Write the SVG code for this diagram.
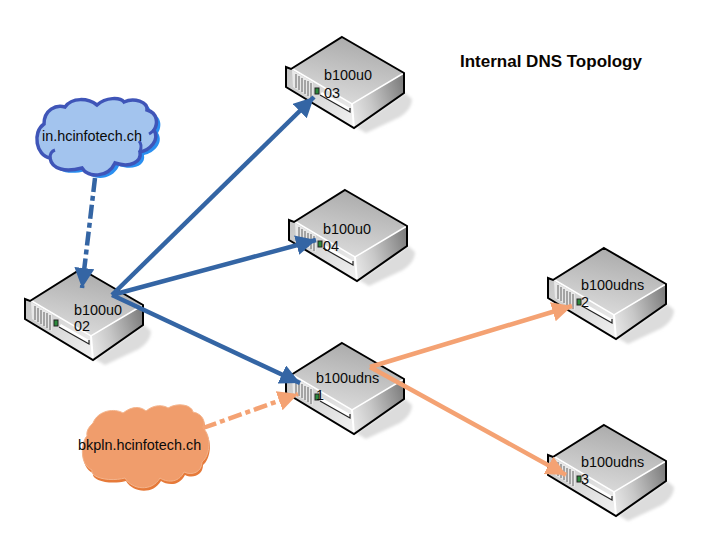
<svg xmlns="http://www.w3.org/2000/svg" width="716" height="549" viewBox="0 0 716 549">
<style>
.lbl{font-family:"Liberation Sans",Arial,sans-serif;font-size:14.4px;fill:#0a0a0a}
.title{font-family:"Liberation Sans",Arial,sans-serif;font-size:17px;font-weight:bold;fill:#0a0500}
.edge{fill:none;stroke-width:4.5}
.blue{stroke:#3465a4}
.orange{stroke:#f4a273}
.dashdot{stroke-dasharray:14 4 5 4}
.sl{fill:none;stroke:#000;stroke-width:2;stroke-linejoin:miter}
</style>
<defs>
<linearGradient id="top" x1="0.7" y1="0" x2="0.35" y2="1"><stop offset="0" stop-color="#a8a8a8"/><stop offset="1" stop-color="#dcdcdc"/></linearGradient>
<linearGradient id="side" x1="0" y1="0.6" x2="1" y2="0.3"><stop offset="0" stop-color="#e4e4e4"/><stop offset="0.35" stop-color="#c8c8c8"/><stop offset="1" stop-color="#808080"/></linearGradient>
<linearGradient id="front" x1="0" y1="0" x2="1" y2="1"><stop offset="0" stop-color="#c4c4c4"/><stop offset="1" stop-color="#f2f2f2"/></linearGradient>
<filter id="blur" x="-30%" y="-30%" width="160%" height="160%"><feGaussianBlur stdDeviation="1.5"/></filter>
<marker id="ab" markerUnits="userSpaceOnUse" markerWidth="22" markerHeight="22" refX="20" refY="10" orient="auto"><path d="M0 0L20 10L0 20Z" fill="#3465a4"/></marker>
<marker id="ao" markerUnits="userSpaceOnUse" markerWidth="22" markerHeight="22" refX="20" refY="10" orient="auto"><path d="M0 0L20 10L0 20Z" fill="#f4a273"/></marker>
<g id="srv">
<path d="M14 90L63 56L70 62Q70 72 58 80L24 96Z" fill="#dcdcdc" filter="url(#blur)"/>
<path d="M0 0L62 36L10 67L-51 31Z" fill="url(#top)"/>
<path d="M10 67L62 36V56L12 91Z" fill="url(#side)"/>
<path d="M-56 30L-51 31L10 67L12 91L-56 50Z" fill="url(#front)"/>
<path d="M-51 31L10 67L62 36" fill="none" stroke="#fff" stroke-width="1.5"/>
<path d="M10 67L12 91" stroke="#fff" stroke-width="2" fill="none"/>
<path d="M-50 33L-49 50L-29 62V45Z" fill="#e8e8e8"/>
<g stroke="#777" stroke-width="1.2"><path d="M-46 37V51M-43 39V53M-40 41V55M-37 43V57M-34 44V59M-31 46V61"/></g>
<rect x="-27" y="51" width="4" height="6" fill="#2c8a3c" stroke="#222" stroke-width="1"/>
<path d="M-20 55L8 71V75L-22 58Z" fill="#fff"/>
<path d="M-22 58L8 75V71" fill="none" stroke="#222" stroke-width="1.2"/>
<path class="sl" d="M0 0L62 36V56L12 91L-56 50V30L-51 32Z"/>
</g>
</defs>

<g id="n03"><use href="#srv" x="342" y="37"/><text class="lbl" x="324" y="80">b100u0</text><text class="lbl" x="324" y="98">03</text></g>
<g id="n04"><use href="#srv" x="345" y="190"/><text class="lbl" x="323" y="234">b100u0</text><text class="lbl" x="323" y="251">04</text></g>
<g id="n02"><use href="#srv" x="81" y="269"/><text class="lbl" x="74" y="315">b100u0</text><text class="lbl" x="74" y="331">02</text></g>
<g id="n1"><use href="#srv" x="342" y="343"/><text class="lbl" x="316" y="383">b100udns</text><text class="lbl" x="316" y="400">1</text></g>
<g id="n2"><use href="#srv" x="604" y="248"/><text class="lbl" x="581" y="290">b100udns</text><text class="lbl" x="581" y="307">2</text></g>
<g id="n3"><use href="#srv" x="604" y="425"/><text class="lbl" x="581" y="467">b100udns</text><text class="lbl" x="581" y="484">3</text></g>

<g id="cloud1">
<path transform="translate(4,3)" d="M44 124C44 110 56 104 65 107C72 97 88 98 97 105C106 97 120 97 124 102C134 97 148 102 147 110C158 113 158 124 154 130C160 140 150 150 140 152C142 162 130 168 115 163C108 178 88 178 82 168C66 172 52 170 50 158C36 156 32 132 44 124Z" fill="#2a8ff0"/>
<path d="M44 124C44 110 56 104 65 107C72 97 88 98 97 105C106 97 120 97 124 102C134 97 148 102 147 110C158 113 158 124 154 130C160 140 150 150 140 152C142 162 130 168 115 163C108 178 88 178 82 168C66 172 52 170 50 158C36 156 32 132 44 124Z" fill="#a3c4ee" stroke="#3f55b8" stroke-width="3.5"/>
<path d="M140 152C142 146 141 143 139 141M154 130C152 132 151 133 149 134M50 158C50 154 52 151 55 150" fill="none" stroke="#3f55b8" stroke-width="3"/>
<text class="lbl" x="42" y="141">in.hcinfotech.ch</text>
</g>
<g id="cloud2">
<path transform="translate(1,3)" d="M93 423C98 410 115 408 123 413C132 406 140 406 146 411C154 404 164 405 168 408C178 402 192 405 193 412C204 414 206 424 203 428C212 436 210 456 202 462C202 472 192 476 184 472C178 484 166 482 160 478C152 492 132 490 125 478C110 482 90 478 92 470C78 464 82 440 87 436C86 430 90 426 93 423Z" fill="#e67a3a"/>
<path d="M93 423C98 410 115 408 123 413C132 406 140 406 146 411C154 404 164 405 168 408C178 402 192 405 193 412C204 414 206 424 203 428C212 436 210 456 202 462C202 472 192 476 184 472C178 484 166 482 160 478C152 492 132 490 125 478C110 482 90 478 92 470C78 464 82 440 87 436C86 430 90 426 93 423Z" fill="#f09d6c" stroke="#f4b48c" stroke-width="1"/>
<text class="lbl" x="78" y="450">bkpln.hcinfotech.ch</text>
</g>

<g id="connectors">
<path class="edge blue" d="M112 295L314 97" marker-end="url(#ab)"/>
<path class="edge blue" d="M112 295L316 240" marker-end="url(#ab)"/>
<path class="edge blue" d="M112 295L300 383" marker-end="url(#ab)"/>
<path class="edge blue dashdot" d="M95 178L82 288" marker-end="url(#ab)"/>
<path class="edge orange" d="M370 367L572 306" marker-end="url(#ao)"/>
<path class="edge orange" d="M370 367L566 475" marker-end="url(#ao)"/>
<path class="edge orange dashdot" d="M203 428L298 394" marker-end="url(#ao)"/>
</g>

<g id="title"><text class="title" x="460" y="67">Internal DNS Topology</text></g>
</svg>
